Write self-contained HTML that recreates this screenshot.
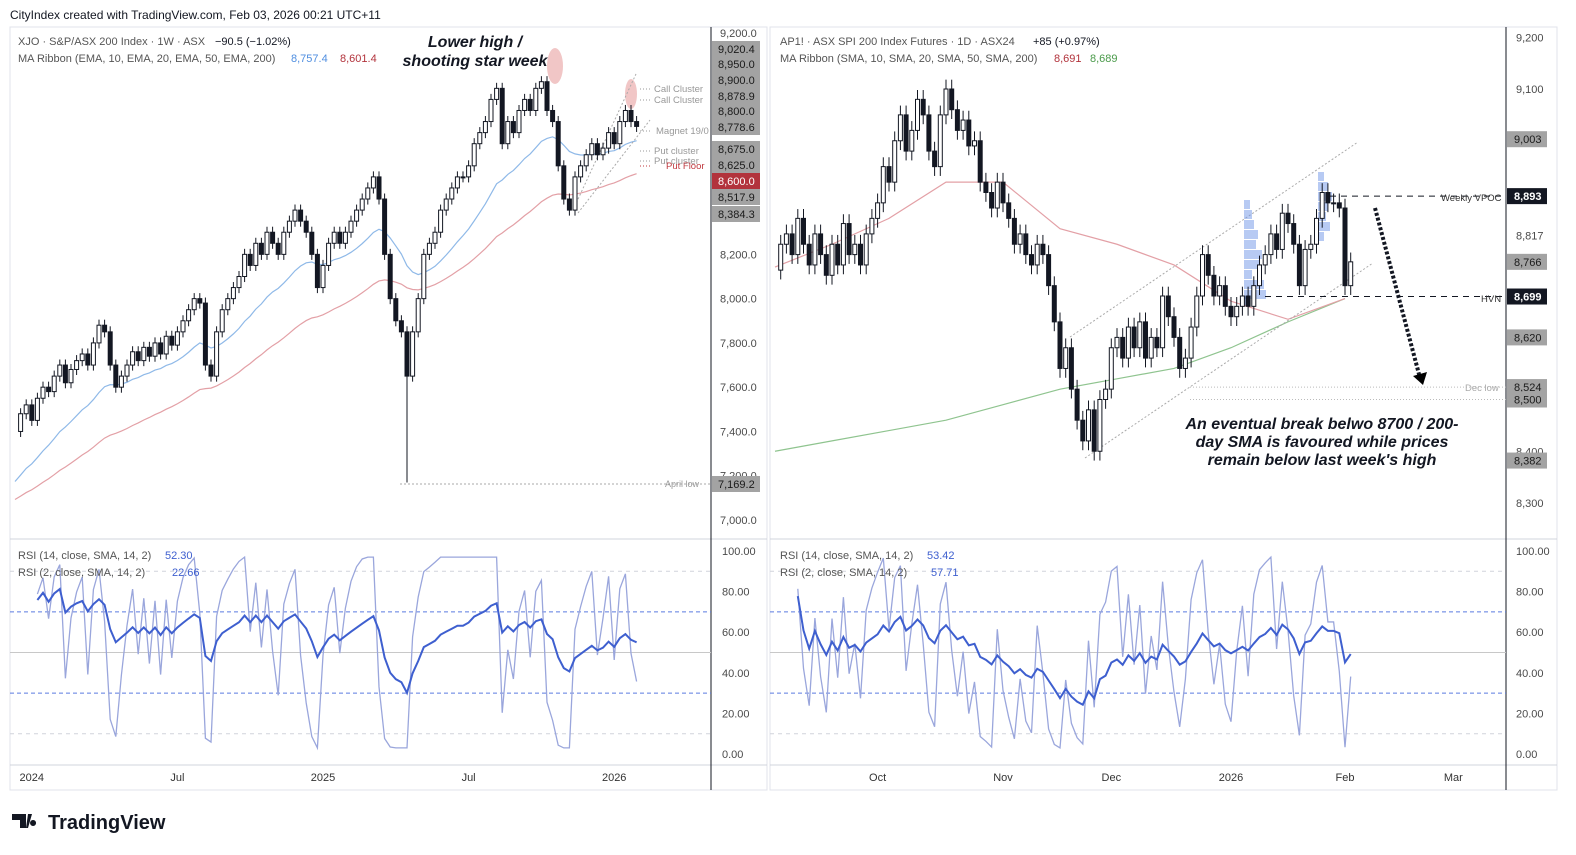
<!DOCTYPE html>
<html><head><meta charset="utf-8">
<style>
body{margin:0;background:#fff;width:1576px;height:855px;overflow:hidden;font-family:"Liberation Sans",sans-serif}
svg{position:absolute;left:0;top:0}
text{font-family:"Liberation Sans",sans-serif}
</style></head><body>
<svg id="c" width="1576" height="855" xmlns="http://www.w3.org/2000/svg"></svg>
<script>
// ---------- data ----------
const leftCloses=[7400,7480,7520,7450,7550,7600,7580,7650,7700,7620,7680,7720,7750,7700,7800,7880,7850,7700,7600,7650,7700,7760,7720,7780,7740,7800,7750,7830,7790,7850,7900,7950,8000,7980,7700,7650,7850,7950,8000,8050,8100,8200,8150,8250,8200,8300,8250,8200,8300,8350,8400,8350,8300,8200,8050,8150,8250,8300,8250,8300,8350,8400,8450,8500,8550,8450,8200,8000,7900,7850,7650,7850,8000,8200,8250,8300,8400,8450,8500,8550,8550,8600,8700,8750,8800,8900,8950,8700,8800,8750,8850,8900,8850,8950,8980,8850,8800,8600,8450,8400,8550,8600,8650,8700,8650,8680,8750,8700,8800,8850,8800,8778];
const leftTimeLabels=["2024","Jul","2025","Jul","2026"];
const leftTimeIdx=[3,29,55,81,107];
const leftPriceTicks=[9200,8200,8000,7800,7600,7400,7200,7000];
const leftTagVals=[9020.4,8950,8900,8878.9,8800,8778.6,8675,8625,8600,8517.9,8384.3,7169.2];
const rightCloses=[8750,8800,8820,8780,8850,8800,8760,8820,8780,8740,8800,8760,8840,8780,8800,8760,8820,8850,8880,8950,8920,9000,9050,8980,9020,9080,9050,8980,8950,9050,9100,9060,9020,9040,8990,9000,8920,8900,8870,8920,8880,8850,8800,8820,8780,8760,8800,8780,8720,8650,8560,8600,8520,8460,8420,8480,8400,8500,8520,8600,8620,8580,8640,8600,8650,8580,8620,8600,8700,8660,8620,8560,8580,8640,8700,8780,8740,8700,8720,8680,8660,8680,8700,8680,8720,8760,8780,8820,8790,8860,8840,8800,8720,8790,8800,8850,8900,8880,8880,8870,8720,8766];
const rightMa50=[8756,8800,8850,8920,8920,8830,8800,8760,8690,8655,8695];
const rightMa200=[8400,8420,8440,8460,8490,8520,8540,8560,8600,8650,8695];
const rightTimeLabels=["Oct","Nov","Dec","2026","Feb","Mar"];
const rightTimeIdx=[18,40,59,80,100,119];
const rightPriceTicks=[9200,9100,8817,8400,8300];
const rightTagVals=[9003,8766,8620,8524,8500,8382];
const rsiTicks=[100,80,60,40,20,0];

// ---------- helpers ----------
const S=document.getElementById('c');const NS='http://www.w3.org/2000/svg';
function mk(tag,a,parent){const e=document.createElementNS(NS,tag);for(const k in a)e.setAttribute(k,a[k]);(parent||S).appendChild(e);return e;}
function tx(x,y,s,a){const e=mk('text',Object.assign({x:x,y:y,'font-size':11,fill:'#131722'},a||{}));e.textContent=s;return e;}
const xL=i=>15+i*5.6, yL=p=>520-(p-7000)*0.22136;
const xR=i=>775+i*5.7, yR=p=>503-(p-8300)*0.5175;
const yRsi=v=>754-v*2.03;
function fmt(v,d){return v.toLocaleString('en-US',{minimumFractionDigits:d,maximumFractionDigits:d});}

// ---------- frames ----------
let e;
tx(10,19,'CityIndex created with TradingView.com, Feb 03, 2026 00:21 UTC+11',{'font-size':12});
e=mk('rect',{x:10,y:27,width:757,height:763,fill:'none',stroke:'#e0e3eb'});
e=mk('rect',{x:770,y:27,width:787,height:763,fill:'none',stroke:'#e0e3eb'});
[[10,711],[770,1506]].forEach(([a,b],k)=>{
 e=mk('line',{x1:a,x2:a+757+(k?30:0),y1:539,y2:539,stroke:'#d1d4dc'});
 e=mk('line',{x1:a,x2:a+757+(k?30:0),y1:765,y2:765,stroke:'#d1d4dc'});
 e=mk('line',{x1:b,x2:b,y1:27,y2:790,stroke:'#131722'});
});

// ---------- RSI panes ----------
function rsi(cl,n){const out=[];let ag=0,al=0;for(let i=1;i<cl.length;i++){const d=cl[i]-cl[i-1];const g=Math.max(d,0),l=Math.max(-d,0);
 if(i<=n){ag+=g/n;al+=l/n;}else{ag=(ag*(n-1)+g)/n;al=(al*(n-1)+l)/n;} out.push(100-100/(1+ag/(al||1e-9)));}return out;}
function rsiPane(cl,xf,x0,x1,axX,name){
 [[90,'#d1d4dc','4,4'],[70,'#5b7be0','4,3'],[50,'#c8c8c8',''],[30,'#5b7be0','4,3'],[10,'#d1d4dc','4,4']].forEach(([v,c,d])=>{
  e=mk('line',{x1:x0,x2:x1,y1:yRsi(v),y2:yRsi(v),stroke:c,'stroke-dasharray':d});});
 const r2=rsi(cl,2).map(v=>Math.min(97,Math.max(3,v))),r14=rsi(cl,14);
 const pts=(arr)=>arr.map((v,i)=>i<3?null:xf(i+1)+','+yRsi(v)).filter(Boolean).join(' ');
 e=mk('polyline',{points:pts(r2),fill:'none',stroke:'#9aa6dc','stroke-width':1.3});
 e=mk('polyline',{points:pts(r14),fill:'none',stroke:'#3e5fcf','stroke-width':2});
 rsiTicks.forEach(v=>{e=tx(axX,yRsi(v)+4,v.toFixed(2),{fill:'#4a4a4a'});});
}
rsiPane(leftCloses,xL,10,711,722,'left');
rsiPane(rightCloses,xR,770,1506,1516,'right');
tx(18,559,'RSI (14, close, SMA, 14, 2)',{fill:'#555'});tx(165,559,'52.30',{fill:'#3e5fcf'});
tx(18,576,'RSI (2, close, SMA, 14, 2)',{fill:'#555'});tx(172,576,'22.66',{fill:'#3e5fcf'});
tx(780,559,'RSI (14, close, SMA, 14, 2)',{fill:'#555'});tx(927,559,'53.42',{fill:'#3e5fcf'});
tx(780,576,'RSI (2, close, SMA, 14, 2)',{fill:'#555'});tx(931,576,'57.71',{fill:'#3e5fcf'});

// ---------- candles ----------
function candles(cl,xf,yf,w,wick,name,special){
 cl.forEach((c,i)=>{if(i===0)return;const o=cl[i-1];const up=c>=o;const x=xf(i);
  let hi=Math.max(o,c)+wick,lo=Math.min(o,c)-wick; if(special&&special[i]!==undefined)lo=special[i];
  e=mk('line',{x1:x,x2:x,y1:yf(hi),y2:yf(lo),stroke:'#131722'});
  const t=yf(Math.max(o,c)),b=yf(Math.min(o,c));
  e=mk('rect',{x:x-w/2,y:t,width:w,height:Math.max(b-t,1),fill:up?'#fff':'#131722',stroke:'#131722','stroke-width':1});});
}
function ema(cl,n,seed){let v=seed;return cl.map(c=>v=v+(c-v)*2/(n+1));}
const e20=ema(leftCloses,20,7150),e50=ema(leftCloses,50,7080);
e=mk('polyline',{points:e50.map((v,i)=>xL(i)+','+yL(v)).join(' '),fill:'none',stroke:'#e3a0a6','stroke-width':1.2});
e=mk('polyline',{points:e20.map((v,i)=>xL(i)+','+yL(v)).join(' '),fill:'none',stroke:'#8fb9e8','stroke-width':1.2});
e=mk('ellipse',{cx:555,cy:66,rx:8,ry:18,fill:'#e8a0a0','fill-opacity':0.6});
e=mk('ellipse',{cx:631,cy:94,rx:6,ry:15,fill:'#e8a0a0','fill-opacity':0.6});
e=mk('line',{x1:573,y1:210,x2:636,y2:74,stroke:'#aaa','stroke-dasharray':'2,2'});
e=mk('line',{x1:578,y1:213,x2:650,y2:120,stroke:'#aaa','stroke-dasharray':'2,2'});
e=mk('line',{x1:400,y1:484,x2:710,y2:484,stroke:'#aaa','stroke-dasharray':'2,2'});
candles(leftCloses,xL,yL,4,25,'left',{70:7169.2});
tx(665,487,'April low',{'font-size':9,fill:'#999'});
[['Call Cluster',92,'#999'],['Call Cluster',103,'#999'],['Magnet 19/0',134,'#999'],['Put cluster',154,'#999'],['Put cluster',164,'#999'],['Put Floor',169,'#c0393f']].forEach(([s,y,c])=>{
 e=tx(s.startsWith('Magnet')?656:(s==='Put Floor'?666:654),y,s,{'font-size':9.5,fill:c});
 e=mk('line',{x1:640,x2:652,y1:y-3,y2:y-3,stroke:c,'stroke-dasharray':'1,2'});});
e=tx(475,47,'Lower high /',{'font-size':16,'font-style':'italic','font-weight':'bold','text-anchor':'middle'});
e=tx(475,66,'shooting star week',{'font-size':16,'font-style':'italic','font-weight':'bold','text-anchor':'middle'});
tx(18,45,'XJO · S&P/ASX 200 Index · 1W · ASX',{fill:'#555'});tx(215,45,'−90.5 (−1.02%)',{fill:'#131722'});
tx(18,62,'MA Ribbon (EMA, 10, EMA, 20, EMA, 50, EMA, 200)',{fill:'#555'});tx(291,62,'8,757.4',{fill:'#4f8ee0'});tx(340,62,'8,601.4',{fill:'#b2333c'});
leftPriceTicks.forEach(p=>{e=tx(720,yL(p)+4,fmt(p,1),{fill:'#4a4a4a'});});
leftTagVals.forEach((p,k)=>{const yy=[49,64,80,96,111,127,149,165,181,197,214,484][k];const red=p===8600;
 e=mk('rect',{x:712,y:yy-8,width:48,height:16,fill:red?'#b2333c':'#a3a3a3'});
 tx(718,yy+4,fmt(p,1),{fill:red?'#fff':'#1a1a1a'});});
leftTimeLabels.forEach((s,k)=>{e=tx(xL(leftTimeIdx[k]),781,s,{'text-anchor':'middle',fill:'#333'});});

// ---------- right chart ----------
const mx=k=>xR(k*10);
e=mk('polyline',{points:rightMa200.map((v,k)=>mx(k)+','+yR(v)).join(' '),fill:'none',stroke:'#8fc48f','stroke-width':1.2});
e=mk('polyline',{points:rightMa50.map((v,k)=>mx(k)+','+yR(v)).join(' '),fill:'none',stroke:'#e3a0a6','stroke-width':1.2});
e=mk('line',{x1:1070,y1:337,x2:1358,y2:142,stroke:'#aaa','stroke-dasharray':'2,2'});
e=mk('line',{x1:1085,y1:458,x2:1373,y2:263,stroke:'#aaa','stroke-dasharray':'2,2'});
const vp1=[[200,6],[210,8],[220,10],[230,14],[240,12],[250,18],[260,16],[270,8],[280,20],[290,22],[296,6]];
vp1.forEach(([y,w])=>{e=mk('rect',{x:1244,y:y,width:w,height:9,fill:'#6f95e8','fill-opacity':0.5});});
[[172,6],[182,10],[192,14],[202,10],[212,8],[222,12],[232,6]].forEach(([y,w])=>{e=mk('rect',{x:1318,y:y,width:w,height:9,fill:'#6f95e8','fill-opacity':0.5});});
candles(rightCloses,xR,yR,4,18,'right');
e=mk('line',{x1:1330,x2:1506,y1:yR(8893),y2:yR(8893),stroke:'#131722','stroke-dasharray':'6,5'});
e=mk('line',{x1:1265,x2:1506,y1:yR(8699),y2:yR(8699),stroke:'#131722','stroke-dasharray':'6,5'});
e=mk('line',{x1:1190,x2:1506,y1:yR(8524),y2:yR(8524),stroke:'#bbb','stroke-dasharray':'1,2'});
e=mk('line',{x1:1190,x2:1506,y1:yR(8500),y2:yR(8500),stroke:'#bbb','stroke-dasharray':'1,2'});
tx(1441,201,'Weekly VPOC',{'font-size':9.5,fill:'#333'});tx(1481,302,'HVN',{'font-size':9.5,fill:'#333'});tx(1465,391,'Dec low',{'font-size':9.5,fill:'#aaa'});
e=mk('line',{x1:1375,y1:208,x2:1420,y2:378,stroke:'#131722','stroke-width':4,'stroke-dasharray':'3,2'});
e=mk('polygon',{points:'1413,376 1427,372 1423,385'});
['An eventual break belwo 8700 / 200-','day SMA is favoured while prices','remain below last week\'s high'].forEach((s,k)=>{e=tx(1322,429+k*18,s,{'font-size':16,'font-style':'italic','font-weight':'bold','text-anchor':'middle'});});
tx(780,45,'AP1! · ASX SPI 200 Index Futures · 1D · ASX24',{fill:'#555'});tx(1033,45,'+85 (+0.97%)',{fill:'#131722'});
tx(780,62,'MA Ribbon (SMA, 10, SMA, 20, SMA, 50, SMA, 200)',{fill:'#555'});tx(1054,62,'8,691',{fill:'#b2333c'});tx(1090,62,'8,689',{fill:'#4a9a4a'});
rightPriceTicks.forEach(p=>{e=tx(1516,yR(p)+4,fmt(p,0),{fill:'#4a4a4a'});});
rightTagVals.forEach(p=>{const yy=yR(p);e=mk('rect',{x:1507,y:yy-8,width:40,height:16,fill:'#a3a3a3'});tx(1514,yy+4,fmt(p,0),{fill:'#1a1a1a'});});
[8893,8699].forEach(p=>{const yy=yR(p);e=mk('rect',{x:1507,y:yy-8,width:40,height:16,fill:'#131722'});tx(1514,yy+4,fmt(p,0),{fill:'#fff','font-weight':'bold'});});
rightTimeLabels.forEach((s,k)=>{e=tx(xR(rightTimeIdx[k]),781,s,{'text-anchor':'middle',fill:'#333'});});

// logo
e=mk('path',{d:'M12 814h14v14h-6v-8h-8z M28 814h4l-4 14h-2z M33 820a3 3 0 1 0 .1 0z',fill:'#131722'});
e=tx(48,829,'TradingView',{'font-size':20,'font-weight':'bold'});
</script>
</body></html>
